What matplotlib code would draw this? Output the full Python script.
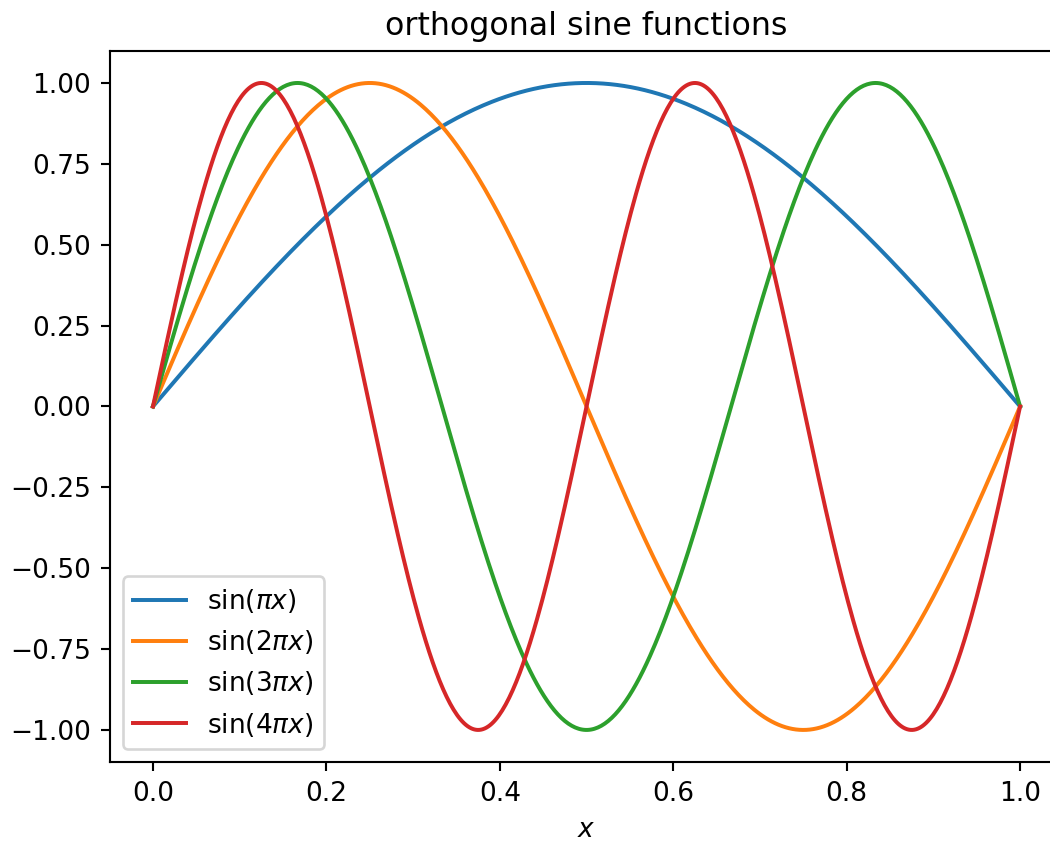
import numpy as np
import matplotlib
matplotlib.use("Agg")
import matplotlib.pyplot as plt

# Data: harmonic numbers of sin(n*pi*x) on [0, 1]
harmonics = [1, 2, 3, 4]
labels = [r"$\sin(\pi x)$", r"$\sin(2\pi x)$", r"$\sin(3\pi x)$", r"$\sin(4\pi x)$"]
x_start, x_end, n_points = 0.0, 1.0, 500

x = np.linspace(x_start, x_end, n_points)

DPI = 190
fig = plt.figure(figsize=(1050 / DPI, 841 / DPI), dpi=DPI)
ax = fig.add_axes([0.1044, 0.0936, 0.9084, 0.8462])

for n, lab in zip(harmonics, labels):
    ax.plot(x, np.sin(n * np.pi * x), label=lab)

ax.set_title("orthogonal sine functions")
ax.set_xlabel("$x$")
ax.legend(loc="lower left")

fig.savefig("out.png", dpi=DPI)
